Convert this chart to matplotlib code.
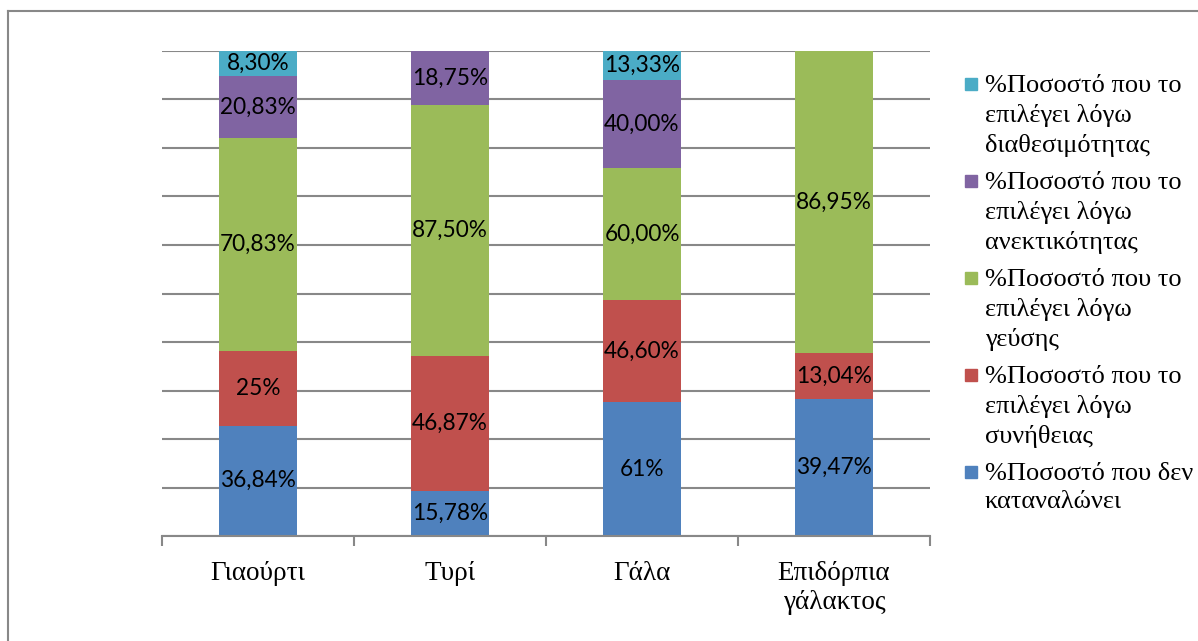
import numpy as np
import matplotlib.pyplot as plt
from matplotlib.lines import Line2D
from matplotlib.patches import Rectangle

# Categories and the percentages per reason, as written on the bars
categories = ['Γιαούρτι', 'Τυρί', 'Γάλα', 'Επιδόρπια\nγάλακτος']
not_consume = ['36,84%', '15,78%', '61%', '39,47%']
habit = ['25%', '46,87%', '46,60%', '13,04%']
taste = ['70,83%', '87,50%', '60,00%', '86,95%']
tolerance = ['20,83%', '18,75%', '40,00%', '']
availability = ['8,30%', '', '13,33%', '']

series_labels = [
    '%Ποσοστό που δεν\nκαταναλώνει',
    '%Ποσοστό που το\nεπιλέγει λόγω\nσυνήθειας',
    '%Ποσοστό που το\nεπιλέγει λόγω\nγεύσης',
    '%Ποσοστό που το\nεπιλέγει λόγω\nανεκτικότητας',
    '%Ποσοστό που το\nεπιλέγει λόγω\nδιαθεσιμότητας',
]
colors = ['#4F81BD', '#C0504D', '#9BBB59', '#8064A2', '#4BACC6']

SERIF = ['Liberation Serif', 'Times New Roman', 'DejaVu Serif']


def to_num(s):
    return float(s.replace(',', '.').rstrip('%')) if s else 0.0


label_rows = [not_consume, habit, taste, tolerance, availability]
values = np.array([[to_num(s) for s in row] for row in label_rows])
# 100% stacked: each column scaled to its own total
shares = values / values.sum(axis=0) * 100

W, H = 1198, 641
fig = plt.figure(figsize=(W / 100, H / 100), dpi=100)
ax = fig.add_axes([162 / W, 1 - 536 / H, (930 - 162) / W, (536 - 51) / H])

x = np.arange(len(categories))
bottom = np.zeros(len(categories))
for share, labels, color in zip(shares, label_rows, colors):
    ax.bar(x, share, bottom=bottom, width=0.405, color=color, zorder=2)
    for xi, b, h, lab in zip(x, bottom, share, labels):
        if lab:
            ax.text(xi, b + h / 2, lab, ha='center', va='center',
                    fontsize=16.3, family=['Lato', 'DejaVu Sans'],
                    color='black', zorder=3)
    bottom += share

ax.set_xlim(-0.5, len(categories) - 0.5)
ax.set_ylim(0, 100)
ax.set_yticks(np.arange(0, 101, 10))
ax.yaxis.grid(True, color='#888888', linewidth=1.5, zorder=1)
ax.tick_params(axis='y', left=False, labelleft=False)

for side in ['left', 'right', 'top']:
    ax.spines[side].set_visible(False)
ax.spines['bottom'].set_color('#888888')
ax.spines['bottom'].set_linewidth(1.5)
ax.spines['bottom'].set_zorder(4)

ax.set_xticks(x)
ax.set_xticklabels(categories, family=SERIF, fontsize=19.5, linespacing=1.2)
ax.set_xticks(np.arange(-0.5, len(categories)), minor=True)
ax.tick_params(axis='x', which='major', length=0, pad=18)
ax.tick_params(axis='x', which='minor', length=7, width=1.5,
               color='#888888', direction='out')

# Legend, top entry first
for i, (lab, color) in enumerate(zip(series_labels[::-1], colors[::-1])):
    yc = 84 + 97 * i
    fig.patches.append(Rectangle((965 / W, 1 - (yc + 6) / H), 12 / W, 12 / H,
                                 transform=fig.transFigure, color=color))
    fig.text(985 / W, 1 - (yc - 9) / H, lab, ha='left', va='top',
             family=SERIF, fontsize=19, linespacing=1.38)

# Chart area border
fig.add_artist(Line2D([8 / W, 1], [1 - 11 / H, 1 - 11 / H], color='#888888',
                      linewidth=1.5, transform=fig.transFigure))
fig.add_artist(Line2D([8 / W, 8 / W], [0, 1 - 11 / H], color='#888888',
                      linewidth=1.5, transform=fig.transFigure))

fig.savefig('out.png', dpi=100)
